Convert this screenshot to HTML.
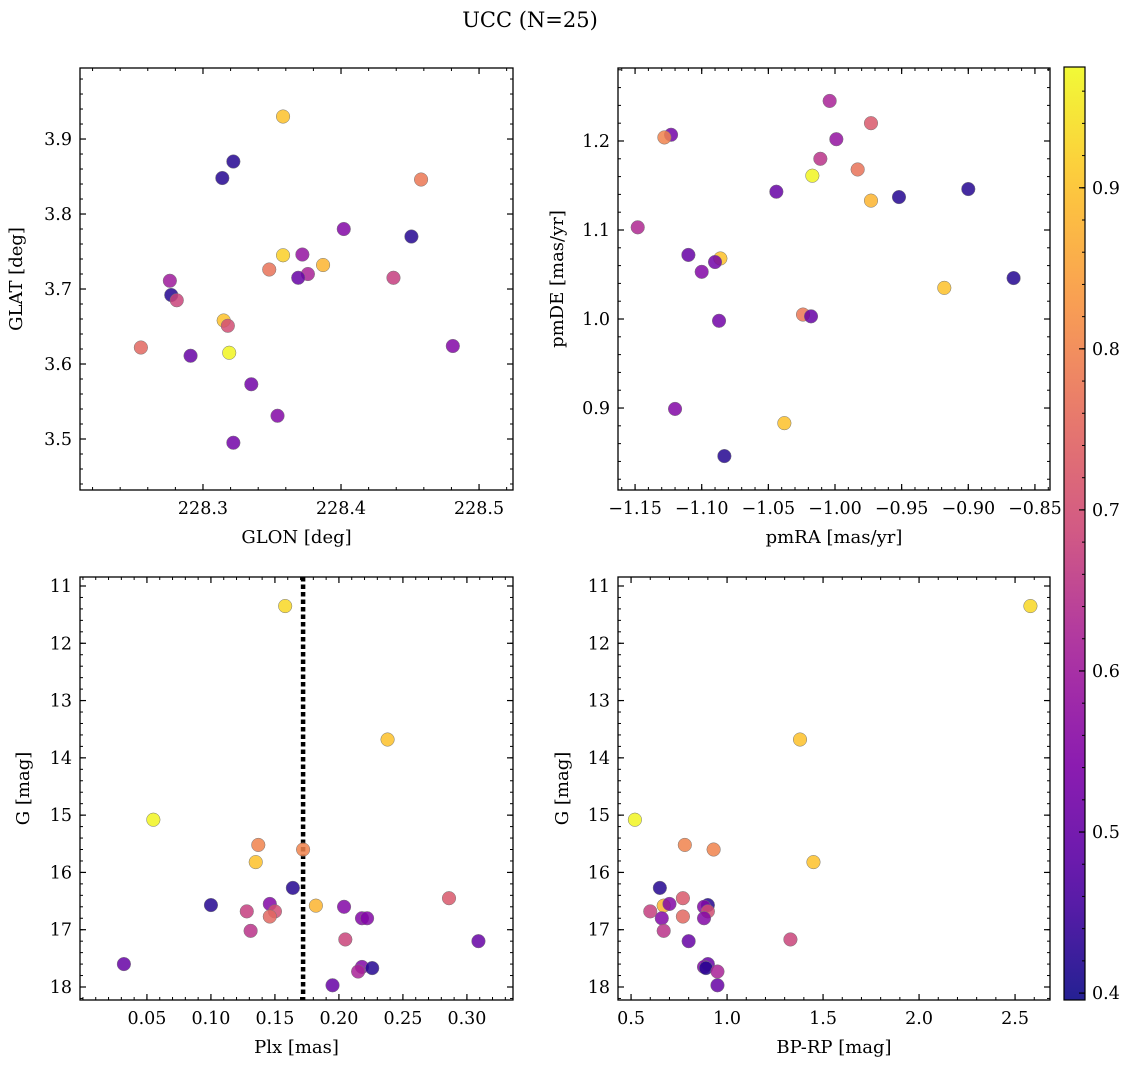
<!DOCTYPE html>
<html><head><meta charset="utf-8">
<style>
html,body{margin:0;padding:0;background:#fff;}
svg{display:block;font-family:"DejaVu Serif","Liberation Serif",serif;}
</style></head>
<body>
<svg id="chart" width="1136" height="1067" viewBox="0 0 1136 1067" xmlns="http://www.w3.org/2000/svg">
<text x="530" y="27" font-size="21" text-anchor="middle">UCC (N=25)</text>
</svg>
<script>
// Panel A: GLON / GLAT
const glon=[228.358,228.314,228.322,228.458,228.402,228.451,228.358,228.372,228.387,228.348,228.376,228.369,228.438,228.276,228.277,228.281,228.315,228.318,228.255,228.481,228.291,228.319,228.335,228.354,228.322];
const glat=[3.930,3.848,3.870,3.846,3.780,3.770,3.745,3.746,3.732,3.726,3.720,3.715,3.715,3.711,3.692,3.685,3.658,3.651,3.622,3.624,3.611,3.615,3.573,3.531,3.495];
const probA=[0.90,0.42,0.42,0.78,0.55,0.42,0.92,0.58,0.88,0.77,0.62,0.50,0.67,0.60,0.42,0.68,0.90,0.70,0.75,0.55,0.50,0.97,0.52,0.55,0.52];
// Panel B: pmRA / pmDE
const pmra=[-1.004,-0.973,-1.123,-1.128,-0.999,-1.011,-0.983,-1.017,-0.900,-1.044,-0.952,-0.973,-1.148,-1.110,-1.086,-1.090,-1.100,-0.866,-0.918,-1.024,-1.018,-1.087,-1.120,-1.038,-1.083];
const pmde=[1.245,1.220,1.207,1.204,1.202,1.180,1.168,1.161,1.146,1.143,1.137,1.133,1.103,1.072,1.068,1.064,1.053,1.046,1.035,1.005,1.003,0.998,0.899,0.883,0.846];
const probB=[0.62,0.72,0.52,0.80,0.58,0.65,0.77,0.97,0.42,0.50,0.42,0.88,0.63,0.50,0.90,0.52,0.55,0.42,0.90,0.78,0.50,0.52,0.55,0.90,0.42];
// Panels C/D: Plx, BP-RP, G
const plx=[0.158,0.238,0.055,0.137,0.135,0.172,0.164,0.100,0.182,0.146,0.204,0.286,0.128,0.150,0.146,0.218,0.222,0.131,0.205,0.309,0.032,0.218,0.226,0.215,0.195];
const bprp=[2.58,1.38,0.52,0.78,1.45,0.93,0.65,0.90,0.67,0.70,0.88,0.77,0.60,0.90,0.77,0.66,0.88,0.67,1.33,0.80,0.90,0.88,0.89,0.95,0.95];
const gmag=[11.35,13.68,15.08,15.52,15.82,15.60,16.27,16.57,16.58,16.55,16.60,16.45,16.68,16.68,16.77,16.80,16.80,17.02,17.17,17.20,17.60,17.65,17.67,17.73,17.97];
const probC=[0.93,0.90,0.97,0.80,0.90,0.80,0.42,0.42,0.88,0.55,0.55,0.72,0.67,0.70,0.75,0.55,0.55,0.65,0.68,0.50,0.50,0.55,0.42,0.62,0.50];
const plxLine=[0.172];
const cbTicks=[0.4,0.5,0.6,0.7,0.8,0.9];

const NS="http://www.w3.org/2000/svg";
const svg=document.getElementById('chart');
function mk(tag,attrs,parent){const e=document.createElementNS(NS,tag);for(const k in attrs)e.setAttribute(k,attrs[k]);(parent||svg).appendChild(e);return e;}
const VMIN=0.3957,VMAX=0.975;
const stops=[[0,[13,8,135]],[0.13,[84,2,163]],[0.25,[126,3,168]],[0.38,[166,32,152]],[0.5,[204,71,120]],[0.63,[230,108,92]],[0.75,[248,149,64]],[0.88,[253,196,39]],[1,[240,249,33]]];
function cmap(v){let t=(v-VMIN)/(VMAX-VMIN);t=Math.max(0,Math.min(1,t));for(let i=1;i<stops.length;i++){if(t<=stops[i][0]){const a=stops[i-1],b=stops[i];const f=(t-a[0])/(b[0]-a[0]);const c=a[1].map((x,j)=>Math.round(x+(b[1][j]-x)*f));return `rgb(${c[0]},${c[1]},${c[2]})`;}}return 'rgb(240,249,33)';}
function lin(d0,d1,r0,r1){return v=>r0+(v-d0)/(d1-d0)*(r1-r0);}
function fmt(v,dec){let s=v.toFixed(dec);if(v<0)s='\u2212'+s.slice(1);return s;}
const FS=17.5, LS=18;

function panel(o){
  const g=mk('g',{});
  
  
  const X=lin(o.xr[0],o.xr[1],o.l,o.r),Y=lin(o.yr[0],o.yr[1],o.b,o.t);
  const fr=mk('rect',{x:o.l,y:o.t,width:o.r-o.l,height:o.b-o.t,fill:'none',stroke:'#000','stroke-width':1.3},g);
  
  const minor=(lo,hi,step)=>{const a=[];for(let v=Math.ceil(lo/step-1e-6)*step;v<=hi+1e-9;v+=step)a.push(v);return a;};
  minor(o.xr[0],o.xr[1],o.xminor).forEach(v=>{const x=X(v);mk('line',{x1:x,x2:x,y1:o.b,y2:o.b-3,stroke:'#000','stroke-width':1},g);mk('line',{x1:x,x2:x,y1:o.t,y2:o.t+3,stroke:'#000','stroke-width':1},g);});
  minor(Math.min(...o.yr),Math.max(...o.yr),o.yminor).forEach(v=>{const y=Y(v);mk('line',{x1:o.l,x2:o.l+3,y1:y,y2:y,stroke:'#000','stroke-width':1},g);mk('line',{x1:o.r,x2:o.r-3,y1:y,y2:y,stroke:'#000','stroke-width':1},g);});
  o.xt.forEach(v=>{const x=X(v);mk('line',{x1:x,x2:x,y1:o.b,y2:o.b-6,stroke:'#000','stroke-width':1.2},g);mk('line',{x1:x,x2:x,y1:o.t,y2:o.t+6,stroke:'#000','stroke-width':1.2},g);
    const t=mk('text',{x:x,y:o.b+24,'font-size':FS,'text-anchor':'middle'},g);t.textContent=fmt(v,o.xdec);
    });
  o.yt.forEach(v=>{const y=Y(v);mk('line',{x1:o.l,x2:o.l+6,y1:y,y2:y,stroke:'#000','stroke-width':1.2},g);mk('line',{x1:o.r,x2:o.r-6,y1:y,y2:y,stroke:'#000','stroke-width':1.2},g);
    const t=mk('text',{x:o.l-8,y:y+6,'font-size':FS,'text-anchor':'end'},g);t.textContent=fmt(v,o.ydec);
    });
  const xl=mk('text',{x:(o.l+o.r)/2,y:o.b+53,'font-size':LS,'text-anchor':'middle'},g);xl.textContent=o.xlab;
  
  const yc=(o.t+o.b)/2;const yl=mk('text',{x:o.ylx,y:yc,'font-size':LS,'text-anchor':'middle',transform:`rotate(-90 ${o.ylx} ${yc})`},g);yl.textContent=o.ylab;
  
  if(o.vline){o.vline.forEach(v=>{const l=mk('line',{x1:X(v),x2:X(v),y1:o.t,y2:o.b,stroke:'#000','stroke-width':4.5,'stroke-dasharray':'4.5,3'},g);
    });}
  o.xs.forEach((xv,i)=>{const c=mk('circle',{cx:X(xv),cy:Y(o.ys[i]),r:6.8,fill:cmap(o.c[i]),'fill-opacity':0.85,stroke:'#777','stroke-width':0.5},g);
    });
}
panel({name:'glon-glat-panel',l:80,r:513,t:68,b:490,xr:[228.2109,228.5246],yr:[3.432,3.9947],xt:[228.3,228.4,228.5],yt:[3.5,3.6,3.7,3.8,3.9],xdec:1,ydec:1,xminor:0.02,yminor:0.02,xlab:'GLON [deg]',ylab:'GLAT [deg]',ylx:22,xs:glon,ys:glat,c:probA});
panel({name:'pm-panel',l:618,r:1050,t:68,b:490,xr:[-1.1628,-0.8387],yr:[0.8079,1.282],xt:[-1.15,-1.10,-1.05,-1.00,-0.95,-0.90,-0.85],yt:[0.9,1.0,1.1,1.2],xdec:2,ydec:1,xminor:0.01,yminor:0.02,xlab:'pmRA [mas/yr]',ylab:'pmDE [mas/yr]',ylx:563,xs:pmra,ys:pmde,c:probB});
panel({name:'plx-g-panel',l:80,r:513,t:577,b:1000,xr:[-0.0023,0.336],yr:[18.227,10.843],xt:[0.05,0.10,0.15,0.20,0.25,0.30],yt:[11,12,13,14,15,16,17,18],xdec:2,ydec:0,xminor:0.01,yminor:0.2,xlab:'Plx [mas]',ylab:'G [mag]',ylx:29,xs:plx,ys:gmag,c:probC,vline:plxLine});
panel({name:'cmd-panel',l:618,r:1050,t:577,b:1000,xr:[0.432,2.682],yr:[18.227,10.843],xt:[0.5,1.0,1.5,2.0,2.5],yt:[11,12,13,14,15,16,17,18],xdec:1,ydec:0,xminor:0.1,yminor:0.2,xlab:'BP-RP [mag]',ylab:'G [mag]',ylx:568,xs:bprp,ys:gmag,c:probC});

// colorbar
const cb=mk('g',{});


const defs=mk('defs',{},cb);
const grad=mk('linearGradient',{id:'plasma',x1:0,y1:1,x2:0,y2:0},defs);
for(let i=0;i<=20;i++){const v=VMIN+(VMAX-VMIN)*i/20;mk('stop',{offset:(i*5)+'%','stop-color':cmap(v)},grad);}
const cT=67,cB=1000,cL=1064,cR=1085;
mk('rect',{x:cL,y:cT,width:cR-cL,height:cB-cT,fill:'url(#plasma)','fill-opacity':0.9,stroke:'#000','stroke-width':1.2},cb);
const CY=lin(VMIN,VMAX,cB,cT);
for(let v=0.40;v<=VMAX;v+=0.02){const y=CY(v);mk('line',{x1:cR,x2:cR-3,y1:y,y2:y,stroke:'#000','stroke-width':1},cb);}
cbTicks.forEach(v=>{const y=CY(v);mk('line',{x1:cR,x2:cR-6,y1:y,y2:y,stroke:'#000','stroke-width':1.2},cb);
  const t=mk('text',{x:cR+7,y:y+6,'font-size':FS},cb);t.textContent=v.toFixed(1);
  });
</script>
</body></html>
